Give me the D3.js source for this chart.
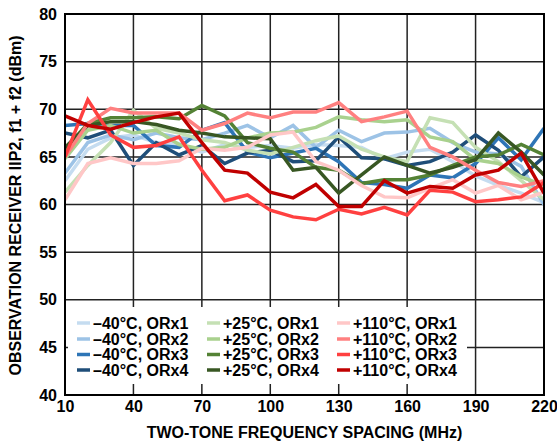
<!DOCTYPE html>
<html><head><meta charset="utf-8">
<script src="https://cdn.jsdelivr.net/npm/d3@7"></script>
<style>body{margin:0;background:#fff}svg{display:block}text{font-family:"Liberation Sans",Arial,sans-serif;font-weight:bold;fill:#000}</style>
</head><body><svg id="c" width="557" height="446"></svg>
<script>
const freqs = [10,20,30,40,50,60,70,80,90,100,110,120,130,140,150,160,170,180,190,200,210,220];
const seriesNames = ["–40°C, ORx1","–40°C, ORx2","–40°C, ORx3","–40°C, ORx4",
  "+25°C, ORx1","+25°C, ORx2","+25°C, ORx3","+25°C, ORx4",
  "+110°C, ORx1","+110°C, ORx2","+110°C, ORx3","+110°C, ORx4"];
const seriesColors = ["#c5dcf0","#9dc3e6","#2e75b6","#1f4e79",
  "#c5e0b4","#a9d18e","#548235","#385723",
  "#ffc7c7","#ff8080","#ff4040","#c00000"];
const m40_orx1 = [62.5,65.8,67.0,67.3,66.5,66.4,65.5,66.3,66.0,66.2,65.9,66.3,66.2,66.0,64.8,65.5,65.8,64.5,63.0,62.0,61.2,60.2];
const m40_orx2 = [63.3,66.5,67.3,66.8,67.5,67.0,66.8,67.5,68.3,67.0,68.3,66.0,67.8,66.6,67.5,67.6,68.0,66.5,65.5,65.3,64.0,60.0];
const m40_orx3 = [68.3,68.5,68.3,68.3,66.2,66.0,67.8,68.6,65.5,64.9,65.4,65.9,64.5,62.3,62.1,61.7,63.1,62.8,64.3,67.0,64.7,68.0];
const m40_orx4 = [67.5,67.0,67.8,64.1,66.5,65.2,66.2,64.3,65.4,65.7,64.5,64.6,67.1,64.9,64.8,64.1,64.5,65.5,67.3,65.7,62.9,65.0];
const p25_orx1 = [61.3,64.1,66.5,69.9,68.0,67.5,66.8,66.5,65.7,65.3,66.0,66.7,67.2,65.8,65.0,64.5,69.1,68.6,66.0,64.5,62.5,60.5];
const p25_orx2 = [64.8,67.8,68.3,67.5,67.8,66.3,65.8,66.0,67.0,67.5,67.6,68.1,69.2,68.9,68.7,68.9,67.1,66.6,64.7,64.3,62.9,62.0];
const p25_orx3 = [65.8,68.5,69.1,69.1,69.2,69.0,70.4,69.3,66.5,65.9,65.5,63.9,63.6,62.2,62.6,62.6,63.1,64.1,65.0,65.2,66.3,65.2];
const p25_orx4 = [66.0,68.3,68.7,68.7,68.4,67.8,67.5,67.1,67.0,66.9,63.6,63.9,61.2,63.1,65.0,64.1,63.3,63.9,64.7,67.5,65.5,63.1];
const p110_orx1 = [60.5,64.3,64.9,64.3,64.3,64.6,65.9,65.7,66.0,67.3,67.6,64.5,63.6,62.0,60.8,60.7,61.7,62.6,61.2,62.0,60.5,61.3];
const p110_orx2 = [65.0,68.5,70.1,69.6,69.6,69.6,67.8,68.5,69.6,69.1,69.7,69.7,70.7,68.7,69.2,69.8,66.0,65.0,63.6,62.3,61.9,62.5];
const p110_orx3 = [65.0,71.0,67.3,66.0,66.2,67.1,63.6,60.4,61.0,59.4,58.7,58.4,59.5,59.0,59.7,58.9,61.5,61.3,60.3,60.5,60.8,62.3];
const p110_orx4 = [69.3,68.3,67.9,68.6,69.2,69.6,66.5,63.6,63.3,61.3,60.7,62.1,59.8,59.8,62.5,61.2,61.9,61.7,63.1,63.6,65.4,61.2];
const seriesValues = [m40_orx1,m40_orx2,m40_orx3,m40_orx4,p25_orx1,p25_orx2,p25_orx3,p25_orx4,p110_orx1,p110_orx2,p110_orx3,p110_orx4];
const xTicks = [10,40,70,100,130,160,190,220];
const yTicks = [40,45,50,55,60,65,70,75,80];
const xTitle = "TWO-TONE FREQUENCY SPACING (MHz)";
const yTitle = "OBSERVATION RECEIVER IIP2, f1 + f2 (dBm)";

const svg = d3.select("#c");
const L=65,R=544,T=14,B=395;
const x = d3.scaleLinear().domain([10,220]).range([L,R]);
const y = d3.scaleLinear().domain([40,80]).range([B,T]);

svg.append("g").selectAll("line").data(xTicks).join("line")
  .attr("x1",d=>x(d)).attr("x2",d=>x(d)).attr("y1",T).attr("y2",B)
  .attr("stroke","#222").attr("stroke-width",1.5);
svg.append("g").selectAll("line").data(yTicks).join("line")
  .attr("y1",d=>y(d)).attr("y2",d=>y(d)).attr("x1",L).attr("x2",R)
  .attr("stroke","#222").attr("stroke-width",1.5);

const line = d3.line().x((d,i)=>x(freqs[i])).y(d=>y(d));
svg.append("clipPath").attr("id","clp").append("rect").attr("x",L).attr("y",T).attr("width",R-L).attr("height",B-T);
svg.append("g").attr("clip-path","url(#clp)").selectAll("path").data(seriesValues).join("path")
  .attr("d",d=>line(d)).attr("fill","none")
  .attr("stroke",(d,i)=>seriesColors[i]).attr("stroke-width",3.5).attr("stroke-linejoin","miter");

const lg = svg.append("g");
lg.append("rect").attr("x",68).attr("y",307).attr("width",399).attr("height",77).attr("fill","#fff");
const colX=[77,207,337], rowY=[323,339,354.5,370];
seriesNames.forEach((n,i)=>{
  const c=Math.floor(i/4), r=i%4;
  lg.append("line").attr("x1",colX[c]).attr("x2",colX[c]+13).attr("y1",rowY[r]).attr("y2",rowY[r])
    .attr("stroke",seriesColors[i]).attr("stroke-width",3.5);
  lg.append("text").attr("x",colX[c]+16).attr("y",rowY[r]).attr("dy","0.35em")
    .attr("font-size",16).text(n);
});

svg.append("rect").attr("x",L).attr("y",T).attr("width",R-L).attr("height",B-T)
  .attr("fill","none").attr("stroke","#000").attr("stroke-width",2);

const xa = d3.axisBottom(x).tickValues(xTicks).tickSize(0).tickPadding(6);
const gx = svg.append("g").attr("transform",`translate(0,${B})`).call(xa);
gx.select(".domain").remove();
gx.selectAll("text").attr("font-size",16).attr("font-family","Liberation Sans, Arial").attr("font-weight","bold").attr("fill","#000");
const ya = d3.axisLeft(y).tickValues(yTicks).tickSize(0).tickPadding(8);
const gy = svg.append("g").attr("transform",`translate(${L},0)`).call(ya);
gy.select(".domain").remove();
gy.selectAll("text").attr("font-size",16).attr("font-family","Liberation Sans, Arial").attr("font-weight","bold").attr("fill","#000");

svg.append("text").attr("x",(L+R)/2).attr("y",438).attr("text-anchor","middle").attr("font-size",16).text(xTitle);
svg.append("text").attr("transform",`translate(21,${(T+B)/2+1}) rotate(-90)`).attr("text-anchor","middle").attr("font-size",16).text(yTitle);
</script></body></html>
